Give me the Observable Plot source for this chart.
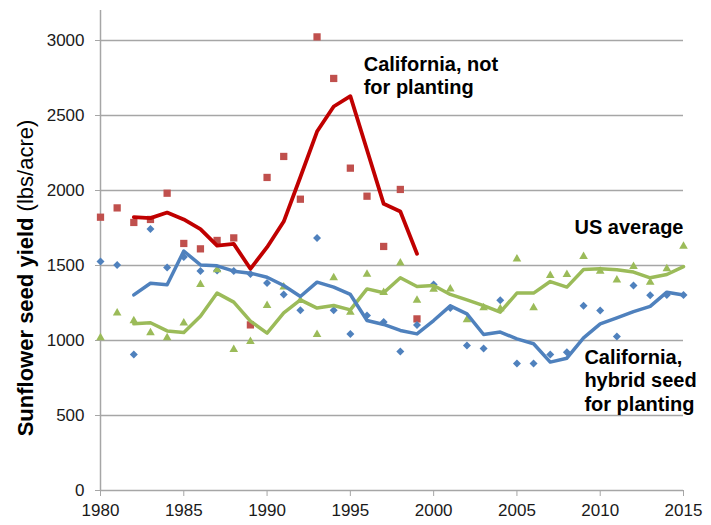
<!DOCTYPE html>
<html><head><meta charset="utf-8">
<script src="https://cdn.jsdelivr.net/npm/d3@7"></script>
<script src="https://cdn.jsdelivr.net/npm/@observablehq/plot@0.6"></script>
<style>body{margin:0;background:#fff}</style>
</head><body><div id="chart"></div>
<script>
// Years
const yearsAll = [1980,1981,1982,1983,1984,1985,1986,1987,1988,1989,1990,1991,1992,1993,1994,1995,1996,1997,1998,1999,2000,2001,2002,2003,2004,2005,2006,2007,2008,2009,2010,2011,2012,2013,2014,2015];
const yearsNotPlanting = [1980,1981,1982,1983,1984,1985,1986,1987,1988,1989,1990,1991,1992,1993,1994,1995,1996,1997,1998,1999];
const yearsAvgAll = [1982,1983,1984,1985,1986,1987,1988,1989,1990,1991,1992,1993,1994,1995,1996,1997,1998,1999,2000,2001,2002,2003,2004,2005,2006,2007,2008,2009,2010,2011,2012,2013,2014,2015];
const yearsAvgNotPlanting = [1982,1983,1984,1985,1986,1987,1988,1989,1990,1991,1992,1993,1994,1995,1996,1997,1998,1999];

// California, not for planting (annual points + 3-yr moving average line)
const notPlantingPts = [1822,1884,1787,1807,1982,1647,1611,1667,1684,1104,2087,2227,1942,3024,2747,2149,1962,1627,2007,1144];
const notPlantingAvg = [1822,1816,1853,1807,1742,1633,1644,1478,1622,1793,2090,2393,2560,2629,2270,1911,1860,1578];

// California, hybrid seed for planting
const hybridPts = [1527,1504,907,1744,1487,1557,1464,1467,1464,1444,1384,1307,1202,1684,1202,1044,1167,1124,927,1104,1373,1216,967,947,1269,847,847,907,922,1231,1200,1027,1367,1302,1304,1304];
const hybridAvg = [1304,1382,1371,1596,1504,1498,1462,1449,1422,1367,1293,1389,1356,1307,1133,1107,1067,1044,1133,1231,1178,1040,1056,1011,978,856,882,1018,1111,1151,1193,1227,1322,1304];

// US average
const usPts = [1018,1184,1131,1051,1018,1116,1373,1471,940,993,1233,1356,1267,1040,1418,1189,1442,1320,1516,1269,1342,1344,1138,1218,1211,1544,1218,1433,1440,1560,1462,1404,1493,1389,1478,1629];
const usAvg = [1111,1118,1064,1053,1162,1316,1256,1129,1049,1184,1271,1216,1233,1204,1344,1318,1418,1360,1367,1307,1271,1233,1189,1316,1316,1393,1356,1473,1478,1471,1456,1418,1440,1493];

// Ticks
const xTicks = [1980,1985,1990,1995,2000,2005,2010,2015];
const yTicks = [0,500,1000,1500,2000,2500,3000];

// Annotation labels (one row per text line)
const labelText = ["California, not","for planting","US average","California,","hybrid seed","for planting"];
const labelX = [1995.8,1995.8,2015,2009.05,2009.05,2009.05];
const labelY = [2838,2687,1754,889,731,576];
const labelAnchor = ["start","start","end","start","start","start"];

const zip = (xs, ys) => xs.map((x, i) => ({x, y: ys[i]}));
const labels = labelText.map((t, i) => ({text: t, x: labelX[i], y: labelY[i], anchor: labelAnchor[i]}));

const red = "#C0504D", redLine = "#C00000", blue = "#4F81BD", green = "#9BBB59", grid = "#a6a6a6";

const plot = Plot.plot({
  width: 711, height: 525,
  marginLeft: 100, marginRight: 28, marginTop: 10, marginBottom: 35,
  x: {domain: [1980, 2015]},
  y: {domain: [0, 3200]},
  style: {fontFamily: "'Liberation Sans', Arial, sans-serif", fontSize: "17px", color: "#1a1a1a", background: "#fff"},
  marks: [
    Plot.ruleY(yTicks, {stroke: grid, strokeWidth: 1.5}),
    Plot.ruleX([1980], {stroke: grid, strokeWidth: 1.5}),
    Plot.axisX({ticks: xTicks, tickFormat: d => String(d), tickSize: 6, tickPadding: 7, stroke: grid, fill: "#1a1a1a", label: null, fontSize: 17}),
    Plot.axisY({ticks: yTicks, tickFormat: d => String(d), tickSize: 5, tickPadding: 11, stroke: grid, fill: "#1a1a1a", label: null, fontSize: 17}),
    Plot.dot(zip(yearsNotPlanting, notPlantingPts), {x: "x", y: "y", symbol: "square", r: 4.1, fill: red}),
    Plot.dot(zip(yearsAll, hybridPts), {x: "x", y: "y", symbol: "diamond2", r: 3.6, fill: blue}),
    Plot.dot(zip(yearsAll, usPts), {x: "x", y: "y", symbol: "triangle", r: 3.2, fill: green}),
    Plot.line(zip(yearsAvgAll, usAvg), {x: "x", y: "y", stroke: green, strokeWidth: 3.5}),
    Plot.line(zip(yearsAvgAll, hybridAvg), {x: "x", y: "y", stroke: blue, strokeWidth: 3.5}),
    Plot.line(zip(yearsAvgNotPlanting, notPlantingAvg), {x: "x", y: "y", stroke: redLine, strokeWidth: 3.8}),
    Plot.text(labels, {x: "x", y: "y", text: "text", fontSize: 20, fontWeight: "bold", fill: "#000"})
  ]
});

// set text anchors per label line
d3.select(plot).selectAll("g[aria-label='text'] text").each(function(d, i) {
  d3.select(this).attr("text-anchor", labels[i].anchor);
});

// Y axis title with mixed weight
const t = d3.select(plot).append("text")
  .attr("transform", "translate(27,278) rotate(-90)")
  .attr("text-anchor", "middle")
  .attr("dominant-baseline", "middle")
  .attr("font-size", 22)
  .attr("fill", "#000");
t.append("tspan").attr("font-weight", "bold").text("Sunflower seed yield ");
t.append("tspan").attr("font-weight", "normal").text("(lbs/acre)");

document.getElementById("chart").appendChild(plot);
</script>
</body></html>
